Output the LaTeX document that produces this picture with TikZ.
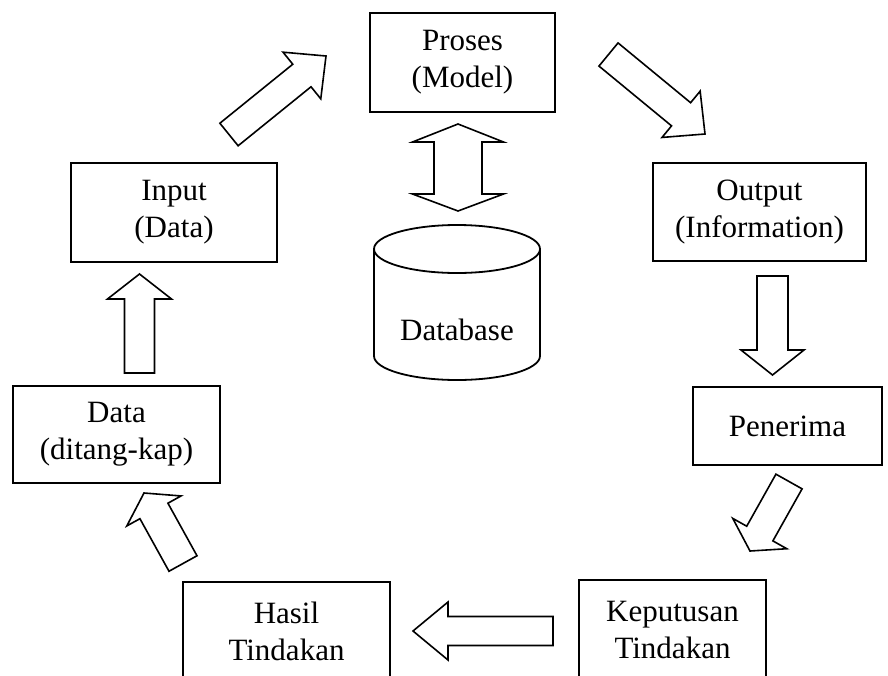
\documentclass[tikz,border=0pt]{standalone}
\usepackage{fontspec}
\setmainfont{Liberation Serif}
\usetikzlibrary{calc}
% block arrow: #1 tail, #2 tip, #3 shaft half width, #4 head half width, #5 head length
\newcommand{\blockarrow}[5]{%
  \coordinate (bap) at ($(#2)!#5pt!(#1)$);
  \draw[barrow] ($(#1)!#3pt!90:(#2)$) -- ($(bap)!#3pt!90:(#2)$) -- ($(bap)!#4pt!90:(#2)$) -- (#2)
    -- ($(bap)!#4pt!-90:(#2)$) -- ($(bap)!#3pt!-90:(#2)$) -- ($(#1)!#3pt!-90:(#2)$) -- cycle;}
\begin{document}
\begin{tikzpicture}[x=1pt,y=-1pt,
  box/.style={draw, line width=1.8pt, inner sep=0pt, align=center,
    font=\fontsize{31}{37}\selectfont},
  barrow/.style={draw, line width=1.6pt, line join=miter, fill=white},
  txt/.style={inner sep=0pt, font=\fontsize{31}{37}\selectfont}]
\clip (0,0) rectangle (888,675);
\fill[white] (0,0) rectangle (888,675);
% boxes
\node[box, minimum width=185pt, minimum height=99pt] (proses) at (462.5,62.5) {Proses\\(Model)};
\node[box, minimum width=206pt, minimum height=99pt] (input) at (174,212.5) {Input\\(Data)};
\node[box, minimum width=213pt, minimum height=98pt] (output) at (759.5,212) {Output\\(Information)};
\node[box, minimum width=207pt, minimum height=97pt] (data) at (116.5,434.5) {Data\\(ditang-kap)};
\node[box, minimum width=189pt, minimum height=78pt] (penerima) at (787.5,426) {Penerima};
\node[box, minimum width=207pt, minimum height=99pt] (hasil) at (286.5,631.5) {Hasil\\Tindakan};
\node[box, minimum width=187pt, minimum height=99pt] (keputusan) at (672.5,629.5) {Keputusan\\Tindakan};
% database cylinder
\draw[line width=1.8pt] (457,249) ellipse [x radius=83, y radius=24];
\draw[line width=1.8pt] (374,249) -- (374,356) arc [start angle=180, end angle=0, x radius=83, y radius=24] -- (540,249);
\node[txt] (db) at (457,329.5) {Database};
% arrow end points
\coordinate (a1s) at (229,134.5);  \coordinate (a1e) at (326,56);
\coordinate (a2s) at (608.5,54.5); \coordinate (a2e) at (705,134);
\coordinate (a3s) at (772.5,276);  \coordinate (a3e) at (772.5,375);
\coordinate (a4s) at (789,481.5);  \coordinate (a4e) at (750,551);
\coordinate (a5s) at (553,631);    \coordinate (a5e) at (413,631);
\coordinate (a6s) at (183,563.5);  \coordinate (a6e) at (144,493);
\coordinate (a7s) at (139.5,373);  \coordinate (a7e) at (139.5,274);
\coordinate (dt) at (458,124);     \coordinate (dbm) at (458,211);
\blockarrow{a1s}{a1e}{14.5}{30}{31}
\blockarrow{a2s}{a2e}{15}{30}{31}
\blockarrow{a3s}{a3e}{15.5}{31.5}{25}
\blockarrow{a4s}{a4e}{15}{31}{20}
\blockarrow{a5s}{a5e}{14.5}{29}{35}
\blockarrow{a6s}{a6e}{16}{31}{20.5}
\blockarrow{a7s}{a7e}{15}{32}{25}
% double arrow
\draw[barrow] (dt) -- ($(dt)+(45.5,18)$) -- ($(dt)+(24,18)$) -- ($(dbm)+(24,-17)$) -- ($(dbm)+(45.5,-17)$)
  -- (dbm) -- ($(dbm)+(-45.5,-17)$) -- ($(dbm)+(-24,-17)$) -- ($(dt)+(-24,18)$) -- ($(dt)+(-45.5,18)$) -- cycle;
\end{tikzpicture}
\end{document}
